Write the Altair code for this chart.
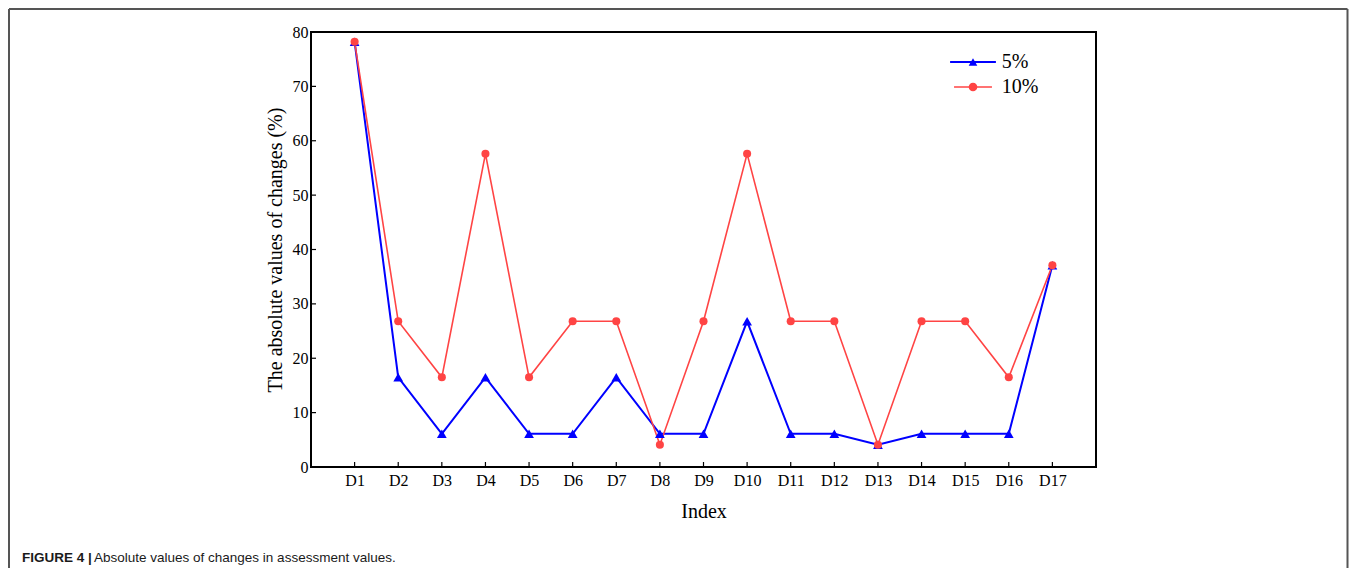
import altair as alt
import pandas as pd

categories = ["D1", "D2", "D3", "D4", "D5", "D6", "D7", "D8", "D9",
              "D10", "D11", "D12", "D13", "D14", "D15", "D16", "D17"]
vals_5 = [78.2, 16.5, 6.1, 16.5, 6.1, 6.1, 16.5, 6.1, 6.1,
          26.8, 6.1, 6.1, 4.1, 6.1, 6.1, 6.1, 37.1]
vals_10 = [78.2, 26.8, 16.5, 57.6, 16.5, 26.8, 26.8, 4.1, 26.8,
           57.6, 26.8, 26.8, 4.1, 26.8, 26.8, 16.5, 37.1]
series_names = ["5%", "10%"]
marker_names = [n + " marker" for n in series_names]
series_colors = ["#0000FF", "#FF4444"]
series_shapes = ["triangle-up", "circle"]
series_widths = [2.0, 1.6]
marker_sizes = [95, 65]
y_ticks = [0, 10, 20, 30, 40, 50, 60, 70, 80]
caption_bold = ["FIGURE 4 |"]
caption_text = ["Absolute values of changes in assessment values."]

rows = []
for name, mname, vals in zip(series_names, marker_names, [vals_5, vals_10]):
    for i, (c, v) in enumerate(zip(categories, vals)):
        rows.append({"Index": c, "value": v, "series": name, "marker": mname,
                     "lw": name, "sz": name, "order": i})
df = pd.DataFrame(rows)
xtick_df = pd.DataFrame({"Index": categories, "value": [0] * len(categories)})
ytick_df = pd.DataFrame({"value": y_ticks})

SERIF = "Liberation Serif"
SANS = "Liberation Sans"

legend_common = dict(
    title=None, orient="none", legendX=652, legendY=20, padding=0,
    labelFont=SERIF, labelFontSize=20, labelColor="black", labelOffset=18.7,
    rowPadding=5,
)
line_legend = alt.Legend(symbolType="M-4.7,0H4.7", symbolSize=100, symbolStrokeWidth=2,
                         symbolFillColor="transparent", zindex=1, **legend_common)
point_legend = alt.Legend(symbolSize=75, symbolStrokeWidth=0, labelExpr="''", zindex=2,
                          **legend_common)

stroke_enc = alt.Stroke("series:N", scale=alt.Scale(domain=series_names, range=series_colors),
                        legend=line_legend)
fill_enc = alt.Fill("marker:N", scale=alt.Scale(domain=marker_names, range=series_colors),
                    legend=point_legend)

x_scale = alt.Scale(type="point", padding=1, domain=categories)
y_scale = alt.Scale(domain=[0, 80], nice=False)

x_enc = alt.X("Index:N", sort=categories, scale=x_scale,
              axis=alt.Axis(title="Index", labelAngle=0, domain=False, ticks=False,
                            tickSize=0, grid=False,
                            labelFont=SERIF, labelFontSize=16, labelColor="black",
                            labelPadding=5, titleFont=SERIF, titleFontSize=20,
                            titleFontWeight="normal", titleColor="black",
                            titleY=50, titleBaseline="alphabetic"))
y_enc = alt.Y("value:Q", scale=y_scale,
              axis=alt.Axis(title="The absolute values of changes (%)", values=y_ticks,
                            format="d", domain=False, ticks=False, tickSize=0, grid=False,
                            labelFont=SERIF, labelFontSize=16, labelColor="black",
                            labelPadding=3, titleFont=SERIF, titleFontSize=20,
                            titleFontWeight="normal", titleColor="black",
                            titleX=-30, titleY=217.5, titleAlign="center",
                            titleBaseline="alphabetic"))

lines = alt.Chart(df).mark_line().encode(
    x=x_enc, y=y_enc, stroke=stroke_enc, order="order:Q",
    strokeWidth=alt.StrokeWidth("lw:N", scale=alt.Scale(domain=series_names, range=series_widths),
                                legend=None),
)
points = alt.Chart(df).mark_point(filled=True, opacity=1, strokeWidth=0).encode(
    x=x_enc, y=y_enc, fill=fill_enc,
    shape=alt.Shape("marker:N", scale=alt.Scale(domain=marker_names, range=series_shapes),
                    legend=point_legend),
    size=alt.Size("sz:N", scale=alt.Scale(domain=series_names, range=marker_sizes),
                  legend=None),
)

# inward axis ticks
xticks = alt.Chart(xtick_df).mark_rule(color="black", strokeWidth=1.2).encode(
    x=alt.X("Index:N", sort=categories, scale=x_scale),
    y=alt.Y("value:Q", scale=y_scale),
    y2=alt.value(430),
)
yticks = alt.Chart(ytick_df).mark_rule(color="black", strokeWidth=1.2).encode(
    y=alt.Y("value:Q", scale=y_scale),
    x=alt.value(0),
    x2=alt.value(5),
)

frame_color = "#555555"
one = pd.DataFrame({"k": [0]})
frame_top = alt.Chart(one).mark_rule(color=frame_color, strokeWidth=2).encode(
    x=alt.value(-302), x2=alt.value(1036.5), y=alt.value(-23))
frame_left = alt.Chart(one).mark_rule(color=frame_color, strokeWidth=2).encode(
    x=alt.value(-302), y=alt.value(-23), y2=alt.value(537))
frame_right = alt.Chart(one).mark_rule(color=frame_color, strokeWidth=2).encode(
    x=alt.value(1036.5), y=alt.value(-23), y2=alt.value(537))

cap1 = alt.Chart(pd.DataFrame({"t": caption_bold})).mark_text(
    font=SANS, fontSize=13.5, fontWeight="bold", align="left", baseline="alphabetic",
    color="#1a1a1a").encode(x=alt.value(-289), y=alt.value(530), text="t:N")
cap2 = alt.Chart(pd.DataFrame({"t": caption_text})).mark_text(
    font=SANS, fontSize=13.5, align="left", baseline="alphabetic",
    color="#1a1a1a").encode(x=alt.value(-217), y=alt.value(530), text="t:N")

chart = alt.layer(lines, points, xticks, yticks, frame_top, frame_left, frame_right,
                  cap1, cap2).properties(
    width=785, height=435,
    autosize=alt.AutoSizeParams(type="none"),
    padding={"left": 303, "top": 24, "right": 253, "bottom": 101},
    background="white",
).configure_view(stroke="black", strokeWidth=2)

chart.save("out.html", embed_options={"renderer": "svg", "actions": False})
